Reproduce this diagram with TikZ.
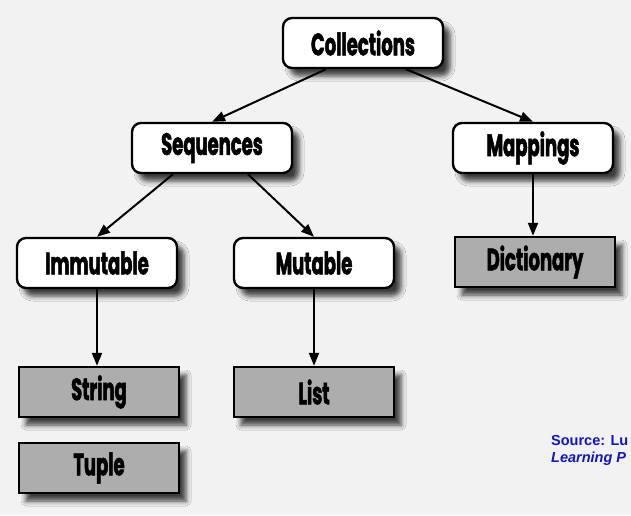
\documentclass[tikz,border=0pt]{standalone}
\usepackage{fontspec}
\usetikzlibrary{arrows.meta}
\usetikzlibrary{shadows.blur}
\newfontfamily\boxfont[FakeStretch=0.58, FakeBold=1.6]{Poppins}
\newfontfamily\srcfont{Liberation Sans}
\definecolor{paper}{HTML}{F2F2F2}
\definecolor{boxgray}{HTML}{ADADAD}
\definecolor{srcblue}{HTML}{1414C8}

\begin{document}
\begin{tikzpicture}[x=1pt, y=-1pt,
box/.style={draw=black, line width=2.4pt, minimum width=160pt, minimum height=50pt,
  font=\boxfont\bfseries\fontsize{31}{31}\selectfont,
  blur shadow={shadow xshift=7pt, shadow yshift=-8pt, shadow blur radius=5pt, shadow opacity=75}},
rbox/.style={box, fill=white, rounded corners=9pt},
gbox/.style={box, fill=boxgray},
arr/.style={line width=2pt, -{Triangle[length=13pt, width=10pt]}},
src/.style={anchor=base west, inner sep=0pt, text=srcblue}]
\fill[paper] (0,0) rectangle (631,515);
\useasboundingbox (0,0) rectangle (631,515);
\node[rbox] (coll) at (363,43) {Collections};
\node[rbox] (seq) at (212,148) {Sequences};
\node[rbox] (map) at (533,148) {Mappings};
\node[rbox] (imm) at (97,263) {Immutable};
\node[rbox] (mut) at (314,263) {Mutable};
\node[gbox] (dict) at (535,262) {Dictionary};
\node[gbox] (str) at (99,392) {String};
\node[gbox] (lst) at (314,392) {List};
\node[gbox] (tup) at (99,468) {Tuple};
% arrows
\draw[arr] ([xshift=-37pt]coll.south) -- (seq.north);
\draw[arr] ([xshift=43pt]coll.south) -- (map.north);
\draw[arr] ([xshift=-39pt]seq.south) -- (imm.north);
\draw[arr] ([xshift=36pt]seq.south) -- (mut.north);
\draw[arr] (map.south) -- (map.south |- dict.north);
\draw[arr] (imm.south) -- (imm.south |- str.north);
\draw[arr] (mut.south) -- (mut.south |- lst.north);
% source line
\node[src, font=\srcfont\bfseries\fontsize{14.5}{14.5}\selectfont] (src1) at (551,445) {Source: Lu};
\node[src, font=\srcfont\bfseries\itshape\fontsize{14.5}{14.5}\selectfont] (src2) at (551,462) {Learning P};
\end{tikzpicture}
\end{document}
